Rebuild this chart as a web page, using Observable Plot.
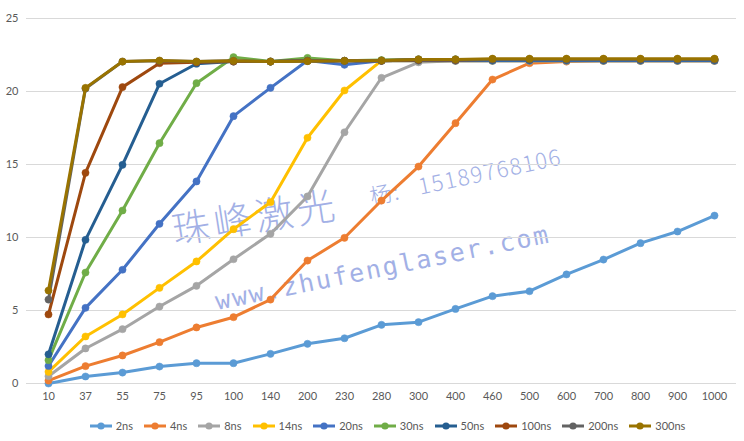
<!DOCTYPE html>
<html>
<head>
<meta charset="utf-8">
<script src="https://cdn.jsdelivr.net/npm/d3@7"></script>
<script src="https://cdn.jsdelivr.net/npm/@observablehq/plot@0.6"></script>
<style>
  html, body { margin: 0; padding: 0; background: #fff; }
  #wrap { position: relative; width: 744px; height: 441px; overflow: hidden; font-family: Lato, "Liberation Sans", sans-serif; background: #fff; }
  #chart { position: absolute; left: 0; top: 0; z-index: 1; }
  #legend { position: absolute; left: 0; top: 419px; width: 744px; display: flex; justify-content: center; gap: 10px; font-size: 11px; color: #595959; padding-left: 30px; box-sizing: border-box; z-index: 1; }
  .item { display: flex; align-items: center; gap: 3px; }
  .wm { position: absolute; color: #8c9de0; opacity: 0.8; white-space: pre; transform-origin: left bottom; pointer-events: none; line-height: 1; z-index: 0; }
</style>
</head>
<body>
<div id="wrap">
  <div class="wm" style="left:175px; top:209px; font-size:38px; font-family:'Noto Sans CJK SC'; font-weight:300; transform: rotate(-9deg); letter-spacing: 4px;">珠峰激光</div>
  <div class="wm" style="left:372px; top:184px; font-size:22px; font-family:'Noto Sans CJK SC'; font-weight:300; transform: rotate(-12deg); letter-spacing: 1.5px;">杨:   15189768106</div>
  <div class="wm" style="left:218px; top:289px; font-size:25px; font-family:'DejaVu Sans Mono'; transform: rotate(-11.5deg); letter-spacing: 2px;">www.zhufenglaser.com</div>
  <div id="chart"></div>
  <div id="legend"></div>
</div>
<script>
const categories = ["10","37","55","75","95","100","140","200","230","280","300","400","460","500","600","700","800","900","1000"];
const seriesNames = ["2ns","4ns","8ns","14ns","20ns","30ns","50ns","100ns","200ns","300ns"];
const colors = ["#5B9BD5","#ED7D31","#A5A5A5","#FFC000","#4472C4","#70AD47","#255E91","#9E480E","#636363","#997300"];
const yTicks = [0,5,10,15,20,25];

const s2ns   = [0.0,0.48,0.75,1.16,1.39,1.39,2.03,2.72,3.10,4.02,4.20,5.11,5.98,6.32,7.47,8.49,9.61,10.41,11.50];
const s4ns   = [0.2,1.19,1.92,2.83,3.84,4.54,5.75,8.42,9.98,12.53,14.86,17.83,20.82,21.94,22.05,22.1,22.1,22.1,22.1];
const s8ns   = [0.5,2.40,3.72,5.27,6.69,8.51,10.25,12.81,17.21,20.94,22.0,22.1,22.1,22.1,22.1,22.1,22.1,22.1,22.1];
const s14ns  = [0.8,3.22,4.73,6.55,8.36,10.57,12.42,16.83,20.07,22.12,22.1,22.1,22.1,22.1,22.1,22.1,22.1,22.1,22.1];
const s20ns  = [1.2,5.18,7.79,10.94,13.84,18.31,20.25,22.12,21.83,22.1,22.1,22.1,22.1,22.1,22.1,22.1,22.1,22.1,22.1];
const s30ns  = [1.6,7.60,11.85,16.46,20.57,22.35,22.05,22.3,22.1,22.15,22.2,22.2,22.2,22.2,22.2,22.2,22.2,22.2,22.2];
const s50ns  = [2.0,9.84,14.98,20.53,21.9,22.05,22.05,22.1,22.1,22.1,22.15,22.15,22.15,22.15,22.15,22.15,22.15,22.15,22.15];
const s100ns = [4.73,14.43,20.30,21.94,22.0,22.05,22.05,22.1,22.1,22.1,22.15,22.15,22.2,22.2,22.2,22.2,22.2,22.2,22.2];
const s200ns = [5.75,20.2,22.05,22.1,22.05,22.1,22.05,22.1,22.1,22.12,22.2,22.2,22.2,22.2,22.2,22.2,22.2,22.2,22.2];
const s300ns = [6.37,20.25,22.05,22.12,22.05,22.1,22.05,22.08,22.1,22.12,22.2,22.2,22.25,22.25,22.25,22.25,22.25,22.25,22.25];

const seriesValues = [s2ns,s4ns,s8ns,s14ns,s20ns,s30ns,s50ns,s100ns,s200ns,s300ns];

const data = [];
seriesNames.forEach((name, i) => {
  categories.forEach((c, j) => data.push({series: name, cat: c, value: seriesValues[i][j]}));
});

const seriesMarks = seriesNames.flatMap(name => {
  const d = data.filter(r => r.series === name);
  return [
    Plot.line(d, {x: "cat", y: "value", stroke: "series", strokeWidth: 3, strokeLinejoin: "round"}),
    Plot.dot(d, {x: "cat", y: "value", fill: "series", r: 3.6, stroke: "series", strokeWidth: 0.5})
  ];
});

const chart = Plot.plot({
  width: 744,
  height: 410,
  marginLeft: 26,
  marginRight: 8,
  marginTop: 18,
  marginBottom: 27,
  style: {fontFamily: "Lato, 'Liberation Sans', sans-serif", fontSize: "11px", color: "#595959", background: "transparent"},
  x: {type: "point", domain: categories, padding: 0.5, label: null},
  y: {domain: [0, 25], label: null},
  color: {domain: seriesNames, range: colors},
  marks: [
    Plot.ruleY(yTicks, {stroke: "#d9d9d9", strokeWidth: 1}),
    Plot.axisY(yTicks, {tickSize: 0, tickPadding: 8, label: null, fill: "#595959"}),
    Plot.axisX({tickSize: 0, tickPadding: 9, label: null, fill: "#595959"}),
    ...seriesMarks
  ]
});
document.getElementById("chart").appendChild(chart);

const legend = document.getElementById("legend");
seriesNames.forEach((name, i) => {
  const item = document.createElement("div");
  item.className = "item";
  item.innerHTML = `<svg width="24" height="10"><line x1="1" y1="5" x2="23" y2="5" stroke="${colors[i]}" stroke-width="3"/><circle cx="12" cy="5" r="3.6" fill="${colors[i]}"/></svg><span>${name}</span>`;
  legend.appendChild(item);
});
</script>
</body>
</html>
